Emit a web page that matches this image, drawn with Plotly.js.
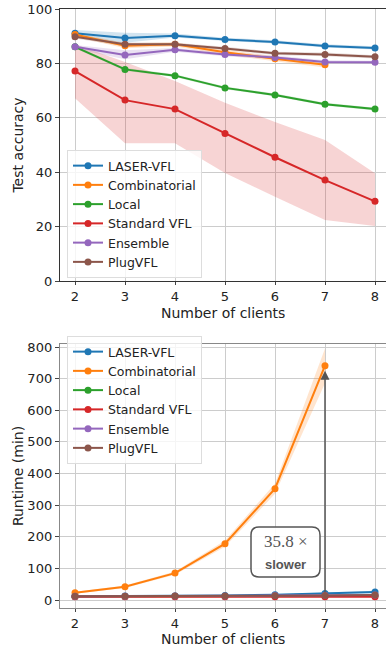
<!DOCTYPE html>
<html><head><meta charset="utf-8">
<script src="https://cdn.plot.ly/plotly-3.0.1.min.js"></script>
<style>html,body{margin:0;padding:0;background:#fff}#chart{width:386px;height:648px}</style>
</head><body><div id="chart"></div>
<script>
// ---------- data ----------
const clients = [2, 3, 4, 5, 6, 7, 8];
const methods = ['LASER-VFL', 'Combinatorial', 'Local', 'Standard VFL', 'Ensemble', 'PlugVFL'];

// Test accuracy (top panel)
const accLaser = [91.1, 89.3, 90.2, 88.8, 87.9, 86.4, 85.7];
const accComb  = [90.6, 86.5, 87.0, 84.1, 81.7, 79.5, null];
const accLocal = [86.1, 77.8, 75.5, 71.0, 68.4, 65.0, 63.2];
const accStd   = [77.2, 66.5, 63.2, 54.2, 45.5, 37.1, 29.3];
const accEns   = [86.1, 83.1, 85.0, 83.3, 82.2, 80.5, 80.4];
const accPlug  = [89.8, 87.0, 87.0, 85.5, 83.7, 83.3, 82.4];

const accLaserLo = [90.0, 87.6, 89.5, 88.2, 87.3, 85.8, 85.1];
const accLaserHi = [92.3, 91.3, 91.0, 89.4, 88.5, 87.0, 86.3];
const accCombLo  = [89.8, 85.6, 86.2, 83.2, 80.8, 78.5, null];
const accCombHi  = [91.4, 87.4, 87.8, 85.0, 82.6, 80.5, null];
const accLocalLo = [85.6, 77.3, 75.0, 70.5, 67.9, 64.5, 62.7];
const accLocalHi = [86.6, 78.3, 76.0, 71.5, 68.9, 65.5, 63.7];
const accStdLo   = [67.2, 50.6, 50.6, 39.7, 31.0, 22.4, 20.2];
const accStdHi   = [87.0, 80.5, 73.5, 65.5, 58.5, 51.8, 39.6];
const accEnsLo   = [85.4, 81.5, 84.3, 82.6, 81.5, 79.8, 79.8];
const accEnsHi   = [86.8, 84.8, 85.7, 84.0, 82.9, 81.2, 81.0];
const accPlugLo  = [89.2, 86.3, 86.4, 84.9, 83.1, 82.6, 81.8];
const accPlugHi  = [90.4, 87.7, 87.6, 86.1, 84.3, 84.0, 83.0];

// Runtime in minutes (bottom panel)
const rtLaser = [12.0, 12.5, 13.0, 14.5, 16.5, 20.7, 25.0];
const rtComb  = [23, 42, 85, 178, 352, 741, null];
const rtLocal = [11.0, 11.0, 11.5, 12.0, 12.5, 13.0, 13.5];
const rtStd   = [10.0, 10.0, 10.0, 10.0, 10.5, 10.5, 10.5];
const rtEns   = [12.0, 12.0, 12.5, 13.0, 14.0, 15.0, 16.0];
const rtPlug  = [12.0, 12.0, 12.5, 13.0, 13.5, 14.5, 15.5];

const rtCombLo  = [20, 38, 80, 168, 336, 685, null];
const rtCombHi  = [26, 46, 90, 188, 368, 795, null];
const rtLaserLo = [11, 11.5, 12, 13, 15, 18.5, 21];
const rtLaserHi = [13, 13.5, 14, 16, 18, 23, 29];

const speedupLabel = '35.8 \u00d7';
const slowerLabel = 'slower';
const arrowFrom = 20.7;   // LASER-VFL runtime at 7 clients
const arrowTo = 725;      // near Combinatorial runtime at 7 clients
const arrowX = 7;

// ---------- styling ----------
const colors = ['#1f77b4', '#ff7f0e', '#2ca02c', '#d62728', '#9467bd', '#8c564b'];
const bandAlpha = ['rgba(31,119,180,0.2)', 'rgba(255,127,14,0.2)', 'rgba(44,160,44,0.2)',
                   'rgba(214,39,40,0.2)', 'rgba(148,103,189,0.2)', 'rgba(140,86,75,0.2)'];

const traces = [];
function band(lo, hi, i, xa, ya) {
  const xs = [], ys = [];
  for (let k = 0; k < clients.length; k++) if (lo[k] != null) { xs.push(clients[k]); ys.push(lo[k]); }
  for (let k = clients.length - 1; k >= 0; k--) if (hi[k] != null) { xs.push(clients[k]); ys.push(hi[k]); }
  traces.push({x: xs, y: ys, xaxis: xa, yaxis: ya, type: 'scatter', mode: 'lines', fill: 'toself',
    fillcolor: bandAlpha[i], line: {width: 0}, hoverinfo: 'skip', showlegend: false});
}
function line(vals, i, xa, ya, leg) {
  traces.push({x: clients, y: vals, xaxis: xa, yaxis: ya, type: 'scatter', mode: 'lines+markers',
    name: methods[i], legend: leg, line: {color: colors[i], width: 2},
    marker: {color: colors[i], size: 7}, connectgaps: false});
}

const accLo = [accLaserLo, accCombLo, accLocalLo, accStdLo, accEnsLo, accPlugLo];
const accHi = [accLaserHi, accCombHi, accLocalHi, accStdHi, accEnsHi, accPlugHi];
const accVals = [accLaser, accComb, accLocal, accStd, accEns, accPlug];
accLo.forEach((lo, i) => band(lo, accHi[i], i, 'x', 'y'));
accVals.forEach((v, i) => line(v, i, 'x', 'y', 'legend'));

band(rtLaserLo, rtLaserHi, 0, 'x2', 'y2');
band(rtCombLo, rtCombHi, 1, 'x2', 'y2');
const rtVals = [rtLaser, rtComb, rtLocal, rtStd, rtEns, rtPlug];
rtVals.forEach((v, i) => line(v, i, 'x2', 'y2', 'legend2'));

const W = 386, H = 648, L = 60;
const px = p => (p - L) / (W - L);
const py = p => 1 - p / H;

const axFont = {family: 'DejaVu Sans, sans-serif', size: 13, color: '#222'};
const titleFont = {family: 'DejaVu Sans, sans-serif', size: 14, color: '#222'};
const xCommon = {range: [1.7, 8.22], tickvals: clients, ticktext: clients.map(String),
  showgrid: true, gridcolor: '#cccccc', gridwidth: 1, zeroline: false,
  ticks: 'outside', ticklen: 3, tickcolor: '#444', tickfont: axFont,
  showline: true, mirror: true, linewidth: 1.2};
const yCommon = {showgrid: true, gridcolor: '#cccccc', gridwidth: 1, zeroline: false,
  ticks: 'outside', ticklen: 4, tickcolor: '#444', tickfont: axFont,
  showline: true, mirror: true, linewidth: 1.2};

// rounded rectangle for the annotation box (pixel -> paper)
function roundRect(x0, y0, x1, y1, r) {
  const X = v => px(v).toFixed(5), Y = v => py(v).toFixed(5);
  return `M${X(x0 + r)},${Y(y0)} L${X(x1 - r)},${Y(y0)} Q${X(x1)},${Y(y0)} ${X(x1)},${Y(y0 + r)} ` +
    `L${X(x1)},${Y(y1 - r)} Q${X(x1)},${Y(y1)} ${X(x1 - r)},${Y(y1)} L${X(x0 + r)},${Y(y1)} ` +
    `Q${X(x0)},${Y(y1)} ${X(x0)},${Y(y1 - r)} L${X(x0)},${Y(y0 + r)} Q${X(x0)},${Y(y0)} ${X(x0 + r)},${Y(y0)} Z`;
}

const legFont = {family: 'DejaVu Sans, sans-serif', size: 12.5, color: '#222'};
const layout = {
  width: W, height: H,
  margin: {l: L, r: 0, t: 0, b: 0},
  paper_bgcolor: '#fff', plot_bgcolor: '#fff',
  font: {family: 'DejaVu Sans, sans-serif', color: '#222'},
  xaxis: Object.assign({}, xCommon, {anchor: 'y', linecolor: '#333'}),
  yaxis: Object.assign({}, yCommon, {domain: [py(281), py(9)], range: [0, 100], dtick: 20, anchor: 'x',
    linecolor: '#333', title: {text: 'Test accuracy', font: titleFont, standoff: 0}}),
  xaxis2: Object.assign({}, xCommon, {anchor: 'y2', linecolor: '#888'}),
  yaxis2: Object.assign({}, yCommon, {domain: [py(608), py(344)], range: [-25.3, 809.5], dtick: 100,
    anchor: 'x2', linecolor: '#888', title: {text: 'Runtime (min)', font: titleFont, standoff: 0}}),
  legend: {x: px(67), y: py(278), xanchor: 'left', yanchor: 'bottom', bgcolor: 'rgba(255,255,255,0.8)',
    bordercolor: '#dddddd', borderwidth: 1, font: legFont, itemwidth: 30, tracegroupgap: 0},
  legend2: {x: px(67), y: py(336), xanchor: 'left', yanchor: 'top', bgcolor: 'rgba(255,255,255,0.8)',
    bordercolor: '#dddddd', borderwidth: 1, font: legFont, itemwidth: 30, tracegroupgap: 0},
  shapes: [{type: 'path', xref: 'paper', yref: 'paper', path: roundRect(251, 527, 320, 577, 8),
    line: {color: '#555', width: 1.5}, fillcolor: 'rgba(255,255,255,0.9)', layer: 'above'}],
  annotations: [
    {xref: 'paper', yref: 'paper', x: 0.5, y: py(313), xanchor: 'center', yanchor: 'middle',
      showarrow: false, text: 'Number of clients', font: titleFont},
    {xref: 'paper', yref: 'paper', x: 0.5, y: py(639), xanchor: 'center', yanchor: 'middle',
      showarrow: false, text: 'Number of clients', font: titleFont},
    {xref: 'x2', yref: 'y2', axref: 'x2', ayref: 'y2', x: arrowX, y: arrowTo, ax: arrowX, ay: arrowFrom,
      showarrow: true, arrowhead: 2, arrowsize: 1.2, arrowwidth: 1.5, arrowcolor: '#555', text: ''},
    {xref: 'paper', yref: 'paper', x: px(285.5), y: py(541), xanchor: 'center', yanchor: 'middle',
      showarrow: false, text: speedupLabel, font: {family: 'Liberation Serif, Times New Roman, serif', size: 17, color: '#555'}},
    {xref: 'paper', yref: 'paper', x: px(285.5), y: py(564), xanchor: 'center', yanchor: 'middle',
      showarrow: false, text: '<b>' + slowerLabel + '</b>', font: {family: 'Liberation Sans, Arial, sans-serif', size: 13, color: '#555'}}
  ]
};

Plotly.newPlot('chart', traces, layout, {displayModeBar: false, staticPlot: true});
</script></body></html>
